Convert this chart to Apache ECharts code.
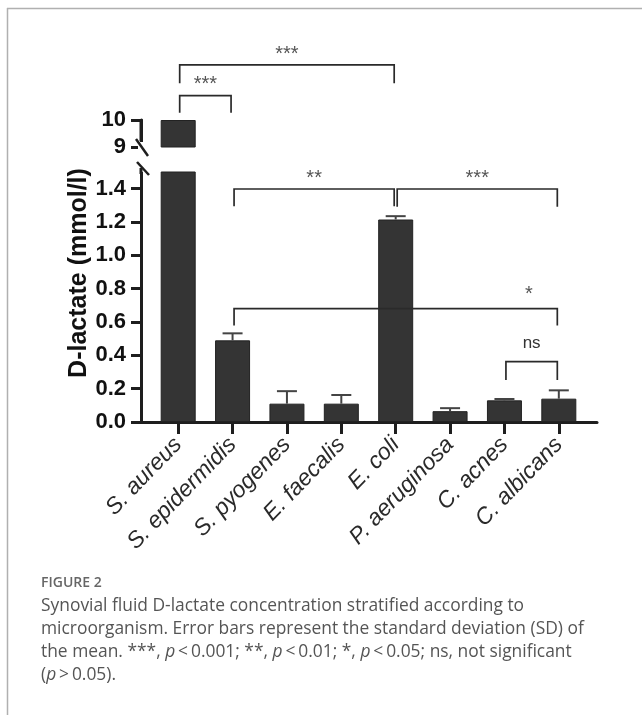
<!DOCTYPE html>
<html><head><meta charset="utf-8">
<script src="https://cdn.jsdelivr.net/npm/echarts@6/dist/echarts.min.js"></script>
<style>html,body{margin:0;padding:0;background:#fff}#c{width:642px;height:715px}</style>
</head><body><div id="c"></div>
<script>
// ---------- data ----------
const categories = ['S. aureus','S. epidermidis','S. pyogenes','E. faecalis','E. coli','P. aeruginosa','C. acnes','C. albicans'];
const means = [10, 0.49, 0.11, 0.11, 1.215, 0.065, 0.13, 0.14];
const sds   = [0, 0.042, 0.075, 0.052, 0.02, 0.018, 0.008, 0.05];
const lowerTicks = [0, 0.2, 0.4, 0.6, 0.8, 1.0, 1.2, 1.4];
const upperTicks = [9, 10];
// significance brackets: [fromIdx, toIdx, topValue, legEndValue, label, labelValue, labelCatPos]
const bracketsLower = [
  [1, 4, 1.398, 1.295, '**', 1.49, null],
  [4, 7, 1.398, 1.292, '***', 1.49, null],
  [1, 7, 0.68, 0.579, '*', 0.79, 6.45],
  [6, 7, 0.362, 0.252, 'ns', 0.472, null]
];
const bracketsUpper = [
  [0, 1, 10.9, 10.27, '***', 11.48, null],
  [0, 4, 12.04, 11.36, '***', 12.59, null]
];
const yTitle = 'D-lactate (mmol/l)';
const figLabel = 'FIGURE 2';
const captionLines = [
  'Synovial fluid D-lactate concentration stratified according to',
  'microorganism. Error bars represent the standard deviation (SD) of',
  'the mean. ***, {i|p}\u2009<\u20090.001; **, {i|p}\u2009<\u20090.01; *, {i|p}\u2009<\u20090.05; ns, not significant',
  '({i|p}\u2009>\u20090.05).'
];

// ---------- layout / style ----------
const GL = 151, GW = 435, AX_OFF = 10;
const FONT = "'Liberation Sans', Arial, sans-serif";
const CAP_FONT = '"Open Sans", sans-serif';
const INK = '#1e1e1e';

function bracketRenderer(list){
  return function(params, api){
    const b = list[params.dataIndex];
    const a = api.coord([b[0], b[2]]), c = api.coord([b[1], b[2]]);
    const e = api.coord([b[0], b[3]]);
    const x1 = a[0] + 1.5, x2 = c[0] - 1.5, yt = a[1], yl = e[1];
    let lx = (x1 + x2) / 2;
    if (b[6] != null) {
      const k = Math.floor(b[6]);
      const p0 = api.coord([k, b[2]])[0], p1 = api.coord([k + 1, b[2]])[0];
      lx = p0 + (b[6] - k) * (p1 - p0);
    }
    const ly = api.coord([b[0], b[5]])[1];
    const isStar = b[4].indexOf('*') >= 0;
    return {type: 'group', children: [
      {type: 'polyline', shape: {points: [[x1, yl], [x1, yt], [x2, yt], [x2, yl]]},
       style: {stroke: '#2a2a2a', lineWidth: 1.7, fill: null}},
      {type: 'text', x: lx, y: ly + (isStar ? 4.5 : 0),
       style: {text: b[4], fill: isStar ? '#555' : '#333', font: (isStar ? '20px ' : '17px ') + FONT,
               textAlign: 'center', textVerticalAlign: 'middle'}}
    ]};
  };
}

const chart = echarts.init(document.getElementById('c'), null, {renderer: 'canvas'});
const yAxisCommon = {
  type: 'value', offset: AX_OFF, splitLine: {show: false},
  axisLine: {show: true, lineStyle: {color: INK, width: 3}},
  axisTick: {show: true, length: 10, lineStyle: {color: INK, width: 3}},
  axisLabel: {color: '#111', fontSize: 22, fontWeight: 'bold', fontFamily: FONT, margin: 15}
};
const option = {
  animation: false,
  backgroundColor: '#fff',
  grid: [
    {left: GL, width: GW, top: 172, height: 250, containLabel: false, outerBoundsMode: 'none'},
    {left: GL, width: GW, top: 120, height: 27, containLabel: false, outerBoundsMode: 'none'},
    {left: GL - AX_OFF, width: GW + 21, top: 172, height: 250, containLabel: false, outerBoundsMode: 'none'}
  ],
  xAxis: [
    {type: 'category', gridIndex: 0, data: categories, boundaryGap: true,
     axisLine: {show: false},
     axisTick: {show: true, alignWithLabel: true, length: 12, lineStyle: {color: INK, width: 3}},
     axisLabel: {rotate: 46, margin: 19, color: '#2a2a2a', fontSize: 23, fontStyle: 'italic', fontFamily: FONT, interval: 0}},
    {type: 'category', gridIndex: 1, data: categories, boundaryGap: true, show: false},
    {type: 'value', gridIndex: 2, min: 0, max: 1, splitLine: {show: false},
     axisLine: {show: true, lineStyle: {color: INK, width: 3}}, axisTick: {show: false}, axisLabel: {show: false}}
  ],
  yAxis: [
    Object.assign({}, yAxisCommon, {gridIndex: 0, min: 0, max: 1.5,
      axisTick: Object.assign({}, yAxisCommon.axisTick, {customValues: lowerTicks}),
      axisLabel: Object.assign({}, yAxisCommon.axisLabel, {customValues: lowerTicks, formatter: v => v.toFixed(1)})}),
    Object.assign({}, yAxisCommon, {gridIndex: 1, min: 9, max: 10,
      axisTick: Object.assign({}, yAxisCommon.axisTick, {customValues: upperTicks}),
      axisLabel: Object.assign({}, yAxisCommon.axisLabel, {customValues: upperTicks})}),
    {type: 'value', gridIndex: 2, show: false, min: 0, max: 1}
  ],
  series: [
    {type: 'bar', xAxisIndex: 0, yAxisIndex: 0, data: means, barWidth: 35,
     itemStyle: {color: '#343434', borderColor: '#222', borderWidth: 1}, clip: true, z: 2},
    {type: 'bar', xAxisIndex: 1, yAxisIndex: 1, data: means, barWidth: 35,
     itemStyle: {color: '#343434', borderColor: '#222', borderWidth: 1}, clip: true, z: 2},
    {type: 'custom', xAxisIndex: 0, yAxisIndex: 0, z: 3, clip: false,
     data: means.map((m, i) => [i, m, m + sds[i]]),
     renderItem: function(params, api){
       const i = api.value(0), m = api.value(1), t = api.value(2);
       if (!(t > m) || m > 1.5) return;
       const b = api.coord([i, m]), p = api.coord([i, t]);
       const w = 10;
       return {type: 'group', children: [
         {type: 'line', shape: {x1: b[0], y1: b[1], x2: p[0], y2: p[1]}, style: {stroke: '#444', lineWidth: 2}},
         {type: 'line', shape: {x1: p[0] - w, y1: p[1], x2: p[0] + w, y2: p[1]}, style: {stroke: '#444', lineWidth: 2}}
       ]};
     }},
    {type: 'custom', xAxisIndex: 0, yAxisIndex: 0, z: 4, clip: false,
     data: bracketsLower.map(b => [b[0], b[2]]), renderItem: bracketRenderer(bracketsLower)},
    {type: 'custom', xAxisIndex: 1, yAxisIndex: 1, z: 4, clip: false,
     data: bracketsUpper.map(b => [b[0], b[2]]), renderItem: bracketRenderer(bracketsUpper)}
  ]
};
chart.setOption(option);

// decorations that depend on the axes
const ax = GL - AX_OFF;
const y9 = chart.convertToPixel({yAxisIndex: 1}, 9);
const y15 = chart.convertToPixel({yAxisIndex: 0}, 1.5);
const capStyle = {font: '17.4px ' + CAP_FONT, fill: '#555', textVerticalAlign: 'middle',
  rich: {i: {fontStyle: 'italic', fontSize: 17.4, fontFamily: CAP_FONT, fill: '#555'}}};
const captionGraphics = captionLines.map((t, k) => ({
  type: 'text', x: 41, y: 606 + k * 23, style: Object.assign({text: t}, capStyle)
}));
chart.setOption({graphic: [
  // frame
  {type: 'line', shape: {x1: 7, y1: 8.5, x2: 642, y2: 8.5}, style: {stroke: '#b0b0b0', lineWidth: 1.5}},
  {type: 'line', shape: {x1: 7.5, y1: 8, x2: 7.5, y2: 715}, style: {stroke: '#b0b0b0', lineWidth: 1.5}},
  // axis break marks
  {type: 'rect', shape: {x: ax - 3, y: y9 - 5, width: 6, height: 30}, style: {fill: '#fff'}, z: 50},
  {type: 'line', shape: {x1: ax - 5, y1: y9 - 8, x2: ax + 7, y2: y9 + 9}, style: {stroke: INK, lineWidth: 2.5}, z: 51},
  {type: 'line', shape: {x1: ax - 4, y1: y15 - 10, x2: ax + 8, y2: y15 + 3}, style: {stroke: INK, lineWidth: 2.5}, z: 51},
  {type: 'line', shape: {x1: ax, y1: y15 - 4, x2: ax, y2: y15 + 2}, style: {stroke: INK, lineWidth: 3}, z: 51},
  {type: 'line', shape: {x1: ax, y1: y9 - 28, x2: ax, y2: y9 - 6}, style: {stroke: INK, lineWidth: 3}, z: 51},
  // y title
  {type: 'text', x: 79, y: 273, rotation: Math.PI / 2,
   style: {text: yTitle, font: 'bold 25px ' + FONT, fill: '#111', textAlign: 'center', textVerticalAlign: 'middle'}},
  // caption
  {type: 'text', x: 41, y: 583, style: {text: figLabel, font: '600 14px ' + CAP_FONT, fill: '#666', textVerticalAlign: 'middle'}}
].concat(captionGraphics)});
</script>
</body></html>
